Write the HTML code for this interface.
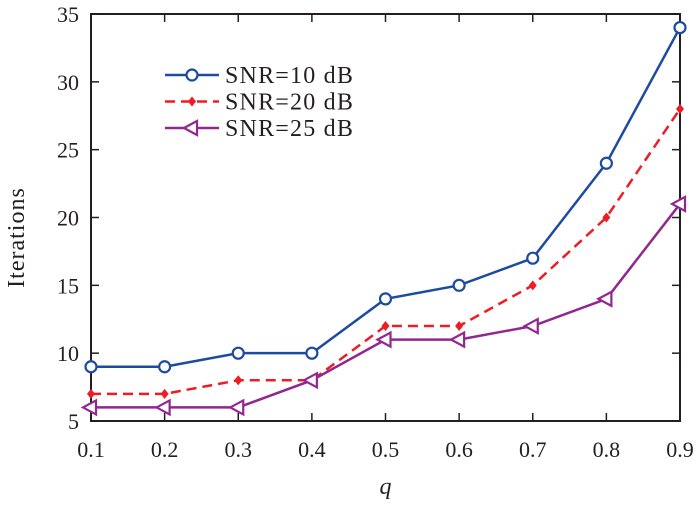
<!DOCTYPE html>
<html><head><meta charset="utf-8"><style>
body{margin:0;background:#fff}
svg text{font-family:"Liberation Serif",serif;fill:#231f20}
</style></head><body>
<svg id="c" width="700" height="500" xmlns="http://www.w3.org/2000/svg"></svg>
<script>
const qValues=[0.1,0.2,0.3,0.4,0.5,0.6,0.7,0.8,0.9];
const snr10=[9,9,10,10,14,15,17,24,34];
const snr20=[7,7,8,8,12,12,15,20,28];
const snr25=[6,6,6,8,11,11,12,14,21];
const xTicks=[0.1,0.2,0.3,0.4,0.5,0.6,0.7,0.8,0.9];
const yTicks=[5,10,15,20,25,30,35];
const seriesNames=["SNR=10 dB","SNR=20 dB","SNR=25 dB"];

const L=91,R=680,T=14,B=421;
const xs=v=>L+(v-0.1)/0.8*(R-L);
const ys=v=>B-(v-5)/30*(B-T);
const svg=document.getElementById('c');
const NS="http://www.w3.org/2000/svg";
function mk(tag,attrs,parent){const e=document.createElementNS(NS,tag);for(const k in attrs)e.setAttribute(k,attrs[k]);(parent||svg).appendChild(e);return e;}

const frame=mk('rect',{x:L,y:T,width:R-L,height:B-T,fill:'none',stroke:'#231f20','stroke-width':2});



xTicks.forEach(t=>{
  const x=xs(t);
  const a=mk('line',{x1:x,y1:B,x2:x,y2:B-8,stroke:'#231f20','stroke-width':1.5});
  
  
  const b=mk('line',{x1:x,y1:T,x2:x,y2:T+8,stroke:'#231f20','stroke-width':1.5});
  
  
  const tx=mk('text',{x:x,y:B+36,'text-anchor':'middle','font-size':22});
  tx.textContent=t.toFixed(1);
  
  
});
yTicks.forEach(t=>{
  const y=ys(t);
  const a=mk('line',{x1:L,y1:y,x2:L+8,y2:y,stroke:'#231f20','stroke-width':1.5});
  
  
  const b=mk('line',{x1:R,y1:y,x2:R-8,y2:y,stroke:'#231f20','stroke-width':1.5});
  
  
  const tx=mk('text',{x:L-12,y:y+8,'text-anchor':'end','font-size':22});
  tx.textContent=t;
  
  
});
const xl=mk('text',{x:(L+R)/2,y:494,'text-anchor':'middle','font-size':24,'font-style':'italic'});
xl.textContent='q';


const yl=mk('text',{x:0,y:0,'text-anchor':'middle','font-size':24,'letter-spacing':1,transform:`translate(24,${(T+B)/2+20}) rotate(-90)`});
yl.textContent='Iterations';



function marker(kind,x,y,color,g){
  if(kind==='circle') return mk('circle',{cx:x,cy:y,r:5.5,fill:'#fff',stroke:color,'stroke-width':2.2},g);
  if(kind==='diamond') return mk('path',{d:`M${x},${y-5}L${x+4},${y}L${x},${y+5}L${x-4},${y}Z`,fill:color},g);
  return mk('path',{d:`M${x-8},${y}L${x+5},${y-7}L${x+5},${y+7}Z`,fill:'#fff',stroke:color,'stroke-width':2.2},g);
}
const series=[
  {vals:snr10,color:'#1c4ba0',dash:'',m:'circle',name:'series-snr10'},
  {vals:snr20,color:'#ee1c24',dash:'10,6',m:'diamond',name:'series-snr20'},
  {vals:snr25,color:'#92278f',dash:'',m:'triangle',name:'series-snr25'}
];
series.forEach((s,i)=>{
  const g=mk('g',{});
  
  
  const pts=s.vals.map((v,j)=>xs(qValues[j])+','+ys(v)).join(' ');
  const pl=mk('polyline',{points:pts,fill:'none',stroke:s.color,'stroke-width':2.5,'stroke-dasharray':s.dash},g);
  
  
  s.vals.forEach((v,j)=>{
    const m=marker(s.m,xs(qValues[j]),ys(v),s.color,g);
    
    
  });
  const ly=75+i*26.5;
  const lg=mk('g',{});
  
  
  mk('line',{x1:165,y1:ly,x2:219,y2:ly,stroke:s.color,'stroke-width':2.5,'stroke-dasharray':s.dash},lg);
  marker(s.m,192,ly,s.color,lg);
  const t=mk('text',{x:225,y:ly+8,'font-size':24,'letter-spacing':1.2},lg);
  t.textContent=seriesNames[i];
});
</script>
</body></html>
